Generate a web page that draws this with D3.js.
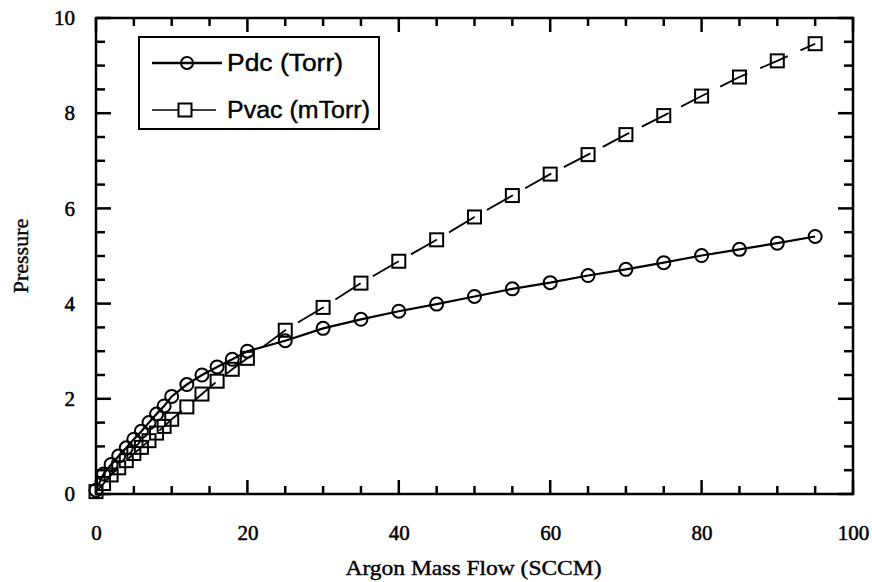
<!DOCTYPE html>
<html>
<head>
<meta charset="utf-8">
<script src="https://cdn.jsdelivr.net/npm/d3@7"></script>
<style>
  body { margin: 0; background: #fff; }
  svg { display: block; }
</style>
</head>
<body>
<div id="chart"></div>
<script>
// argon mass flow (SCCM)
const flow = [0, 1, 2, 3, 4, 5, 6, 7, 8, 9, 10, 12, 14, 16, 18, 20,
              25, 30, 35, 40, 45, 50, 55, 60, 65, 70, 75, 80, 85, 90, 95]
// Pdc (Torr)
const pdc = [0.08, 0.42, 0.62, 0.8, 0.97, 1.15, 1.32, 1.5, 1.68, 1.85, 2.05, 2.3, 2.5, 2.67, 2.83, 3.0,
             3.22, 3.48, 3.67, 3.84, 3.99, 4.15, 4.31, 4.44, 4.59, 4.72, 4.86, 5.01, 5.14, 5.27, 5.41]
// Pvac (mTorr)
const pvac = [0.05, 0.22, 0.4, 0.55, 0.7, 0.85, 0.98, 1.12, 1.28, 1.42, 1.57, 1.83, 2.1, 2.37, 2.62, 2.85,
              3.44, 3.92, 4.43, 4.89, 5.34, 5.82, 6.27, 6.72, 7.13, 7.55, 7.95, 8.36, 8.76, 9.1, 9.46]

const xMajor = [0, 20, 40, 60, 80, 100]
const yMajor = [0, 2, 4, 6, 8, 10]
const xMinor = d3.range(0, 101, 5)
const yMinor = d3.range(0, 10.01, 0.5)
const seriesNames = ["Pdc (Torr)", "Pvac (mTorr)"]

const width = 872
const height = 582
const plotLeft = 96, plotRight = 853, plotTop = 18, plotBottom = 494

const serif = "'Liberation Serif', 'Times New Roman', serif"
const sans = "'Liberation Sans', Arial, sans-serif"

const xScale = d3.scaleLinear().domain([0, 100]).range([plotLeft, plotRight])
const yScale = d3.scaleLinear().domain([0, 10]).range([plotBottom, plotTop])

const svg = d3.select("#chart")
  .append("svg")
    .attr("width", width)
    .attr("height", height)

// Tick marks on all four sides, pointing inward
const tickMarks = svg.append("g")
    .attr("stroke", "#000")
    .attr("stroke-width", 2.5)

const xLen = v => xMajor.includes(v) ? 14 : 8
const yLen = v => yMajor.includes(v) ? 15 : 9

tickMarks.selectAll("line.xb").data(xMinor).enter().append("line")
    .attr("x1", d => xScale(d)).attr("x2", d => xScale(d))
    .attr("y1", plotBottom).attr("y2", d => plotBottom - xLen(d))
tickMarks.selectAll("line.xt").data(xMinor).enter().append("line")
    .attr("x1", d => xScale(d)).attr("x2", d => xScale(d))
    .attr("y1", plotTop).attr("y2", d => plotTop + xLen(d))
tickMarks.selectAll("line.yl").data(yMinor).enter().append("line")
    .attr("y1", d => yScale(d)).attr("y2", d => yScale(d))
    .attr("x1", plotLeft).attr("x2", d => plotLeft + yLen(d))
tickMarks.selectAll("line.yr").data(yMinor).enter().append("line")
    .attr("y1", d => yScale(d)).attr("y2", d => yScale(d))
    .attr("x1", plotRight).attr("x2", d => plotRight - yLen(d))

// Tick labels
const xAxisG = svg.append("g")
    .attr("transform", "translate(0," + plotBottom + ")")
    .call(d3.axisBottom(xScale).tickValues(xMajor).tickSize(0).tickPadding(31))
const yAxisG = svg.append("g")
    .attr("transform", "translate(" + plotLeft + ",0)")
    .call(d3.axisLeft(yScale).tickValues(yMajor).tickSize(0).tickPadding(21))

;[xAxisG, yAxisG].forEach(g => {
  g.select(".domain").remove()
  g.selectAll("text")
      .attr("font-family", serif)
      .attr("font-size", 21)
      .attr("fill", "#000")
      .attr("stroke", "#000")
      .attr("stroke-width", 0.5)
})

// Frame
svg.append("rect")
    .attr("x", plotLeft)
    .attr("y", plotTop)
    .attr("width", plotRight - plotLeft)
    .attr("height", plotBottom - plotTop)
    .attr("fill", "none")
    .attr("stroke", "#000")
    .attr("stroke-width", 2.5)

// Axis titles
svg.append("text")
    .text("Argon Mass Flow (SCCM)")
    .attr("x", (plotLeft + plotRight) / 2 - 1)
    .attr("y", 575)
    .attr("text-anchor", "middle")
    .attr("font-family", serif)
    .attr("font-size", 22)
    .attr("fill", "#000")
    .attr("stroke", "#000")
    .attr("stroke-width", 0.4)
    .attr("textLength", 256)
    .attr("lengthAdjust", "spacingAndGlyphs")

svg.append("text")
    .text("Pressure")
    .attr("text-anchor", "middle")
    .attr("font-family", serif)
    .attr("font-size", 22)
    .attr("fill", "#000")
    .attr("stroke", "#000")
    .attr("stroke-width", 0.4)
    .attr("transform", "translate(28," + ((plotTop + plotBottom) / 2) + ")rotate(-90)")

// Series
const pdcData = flow.map((f, i) => [f, pdc[i]])
const pvacData = flow.map((f, i) => [f, pvac[i]])

const line = d3.line()
  .x(d => xScale(d[0]))
  .y(d => yScale(d[1]))

svg.append("path")
    .datum(pvacData)
    .attr("d", line)
    .attr("fill", "none")
    .attr("stroke", "#000")
    .attr("stroke-width", 1.8)
    .attr("stroke-dasharray", "30,14")

svg.append("path")
    .datum(pdcData)
    .attr("d", line)
    .attr("fill", "none")
    .attr("stroke", "#000")
    .attr("stroke-width", 2.2)

const sq = 13

svg.selectAll("rect.pvac")
  .data(pvacData)
  .enter()
  .append("rect")
    .attr("class", "pvac")
    .attr("x", d => xScale(d[0]) - sq / 2)
    .attr("y", d => yScale(d[1]) - sq / 2)
    .attr("width", sq)
    .attr("height", sq)
    .attr("fill", "none")
    .attr("stroke", "#000")
    .attr("stroke-width", 2)

svg.selectAll("circle.pdc")
  .data(pdcData)
  .enter()
  .append("circle")
    .attr("class", "pdc")
    .attr("cx", d => xScale(d[0]))
    .attr("cy", d => yScale(d[1]))
    .attr("r", 6.5)
    .attr("fill", "none")
    .attr("stroke", "#000")
    .attr("stroke-width", 2)

// Legend
const legend = svg.append("g")

legend.append("rect")
    .attr("x", 139)
    .attr("y", 37)
    .attr("width", 240)
    .attr("height", 92)
    .attr("fill", "#fff")
    .attr("stroke", "#000")
    .attr("stroke-width", 2)

legend.append("line")
    .attr("x1", 152).attr("x2", 222)
    .attr("y1", 63).attr("y2", 63)
    .attr("stroke", "#000")
    .attr("stroke-width", 2.4)
legend.append("circle")
    .attr("cx", 187)
    .attr("cy", 63)
    .attr("r", 6)
    .attr("fill", "none")
    .attr("stroke", "#000")
    .attr("stroke-width", 2)
legend.append("text")
    .text(seriesNames[0])
    .attr("x", 227)
    .attr("y", 71)
    .attr("font-family", sans)
    .attr("font-size", 23)
    .attr("stroke", "#000")
    .attr("stroke-width", 0.4)
    .attr("textLength", 116)
    .attr("lengthAdjust", "spacingAndGlyphs")

legend.append("line")
    .attr("x1", 152).attr("x2", 216)
    .attr("y1", 110).attr("y2", 110)
    .attr("stroke", "#000")
    .attr("stroke-width", 1.6)
legend.append("rect")
    .attr("x", 185 - 6.5)
    .attr("y", 110 - 6.5)
    .attr("width", 13)
    .attr("height", 13)
    .attr("fill", "#fff")
    .attr("stroke", "#000")
    .attr("stroke-width", 2)
legend.append("text")
    .text(seriesNames[1])
    .attr("x", 227)
    .attr("y", 118)
    .attr("font-family", sans)
    .attr("font-size", 23)
    .attr("stroke", "#000")
    .attr("stroke-width", 0.4)
    .attr("textLength", 143)
    .attr("lengthAdjust", "spacingAndGlyphs")
</script>
</body>
</html>
